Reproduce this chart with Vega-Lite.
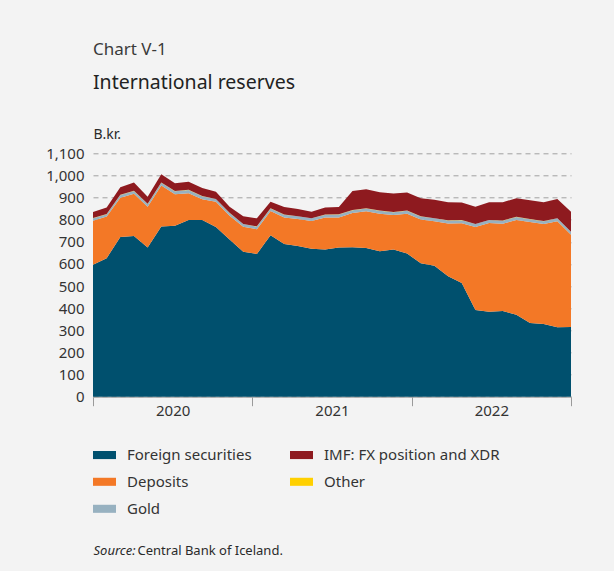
{
  "$schema": "https://vega.github.io/schema/vega-lite/v6.json",
  "width": 478,
  "height": 243.4,
  "autosize": {"type": "none"},
  "padding": {"left": 93, "top": 153.3, "right": 43, "bottom": 174.3},
  "background": "#f3f3f3",
  "config": {
    "font": "Noto Sans",
    "view": {"stroke": null},
    "axis": {"labelFont": "Noto Sans", "titleFont": "Noto Sans"},
    "legend": {"labelFont": "Noto Sans"}
  },
  "title": {
    "text": "Chart V-1",
    "subtitle": "International reserves",
    "anchor": "start",
    "frame": "group",
    "font": "Noto Sans",
    "fontSize": 17,
    "fontWeight": "normal",
    "color": "#3a3a3a",
    "subtitleFont": "Noto Sans",
    "subtitleFontSize": 19.5,
    "subtitleColor": "#222222",
    "subtitlePadding": 15,
    "offset": 34
  },
  "data": {
    "values": [
      {"month": "2020-01", "i": 0, "Foreign securities": 596, "Deposits": 199, "Gold": 12, "Other": 1, "IMF: FX position and XDR": 27},
      {"month": "2020-02", "i": 1, "Foreign securities": 626, "Deposits": 188, "Gold": 11, "Other": 1, "IMF: FX position and XDR": 29},
      {"month": "2020-03", "i": 2, "Foreign securities": 722, "Deposits": 177, "Gold": 13, "Other": 1, "IMF: FX position and XDR": 34},
      {"month": "2020-04", "i": 3, "Foreign securities": 726, "Deposits": 191, "Gold": 13, "Other": 1, "IMF: FX position and XDR": 37},
      {"month": "2020-05", "i": 4, "Foreign securities": 674, "Deposits": 185, "Gold": 12, "Other": 1, "IMF: FX position and XDR": 32},
      {"month": "2020-06", "i": 5, "Foreign securities": 769, "Deposits": 185, "Gold": 13, "Other": 1, "IMF: FX position and XDR": 37},
      {"month": "2020-07", "i": 6, "Foreign securities": 773, "Deposits": 142, "Gold": 14, "Other": 1, "IMF: FX position and XDR": 35},
      {"month": "2020-08", "i": 7, "Foreign securities": 798, "Deposits": 122, "Gold": 14, "Other": 1, "IMF: FX position and XDR": 36},
      {"month": "2020-09", "i": 8, "Foreign securities": 798, "Deposits": 94, "Gold": 14, "Other": 1, "IMF: FX position and XDR": 36},
      {"month": "2020-10", "i": 9, "Foreign securities": 767, "Deposits": 114, "Gold": 12, "Other": 1, "IMF: FX position and XDR": 32},
      {"month": "2020-11", "i": 10, "Foreign securities": 711, "Deposits": 107, "Gold": 12, "Other": 1, "IMF: FX position and XDR": 27},
      {"month": "2020-12", "i": 11, "Foreign securities": 655, "Deposits": 113, "Gold": 12, "Other": 1, "IMF: FX position and XDR": 35},
      {"month": "2021-01", "i": 12, "Foreign securities": 645, "Deposits": 112, "Gold": 12, "Other": 1, "IMF: FX position and XDR": 36},
      {"month": "2021-02", "i": 13, "Foreign securities": 730, "Deposits": 109, "Gold": 12, "Other": 1, "IMF: FX position and XDR": 29},
      {"month": "2021-03", "i": 14, "Foreign securities": 690, "Deposits": 120, "Gold": 12, "Other": 1, "IMF: FX position and XDR": 34},
      {"month": "2021-04", "i": 15, "Foreign securities": 681, "Deposits": 122, "Gold": 12, "Other": 1, "IMF: FX position and XDR": 32},
      {"month": "2021-05", "i": 16, "Foreign securities": 669, "Deposits": 125, "Gold": 12, "Other": 1, "IMF: FX position and XDR": 29},
      {"month": "2021-06", "i": 17, "Foreign securities": 665, "Deposits": 145, "Gold": 12, "Other": 1, "IMF: FX position and XDR": 32},
      {"month": "2021-07", "i": 18, "Foreign securities": 674, "Deposits": 136, "Gold": 13, "Other": 1, "IMF: FX position and XDR": 33},
      {"month": "2021-08", "i": 19, "Foreign securities": 675, "Deposits": 155, "Gold": 13, "Other": 1, "IMF: FX position and XDR": 86},
      {"month": "2021-09", "i": 20, "Foreign securities": 672, "Deposits": 166, "Gold": 13, "Other": 1, "IMF: FX position and XDR": 85},
      {"month": "2021-10", "i": 21, "Foreign securities": 657, "Deposits": 170, "Gold": 13, "Other": 1, "IMF: FX position and XDR": 83},
      {"month": "2021-11", "i": 22, "Foreign securities": 665, "Deposits": 156, "Gold": 13, "Other": 1, "IMF: FX position and XDR": 83},
      {"month": "2021-12", "i": 23, "Foreign securities": 647, "Deposits": 180, "Gold": 13, "Other": 1, "IMF: FX position and XDR": 82},
      {"month": "2022-01", "i": 24, "Foreign securities": 603, "Deposits": 198, "Gold": 13, "Other": 1, "IMF: FX position and XDR": 82},
      {"month": "2022-02", "i": 25, "Foreign securities": 592, "Deposits": 201, "Gold": 13, "Other": 1, "IMF: FX position and XDR": 83},
      {"month": "2022-03", "i": 26, "Foreign securities": 544, "Deposits": 239, "Gold": 13, "Other": 1, "IMF: FX position and XDR": 82},
      {"month": "2022-04", "i": 27, "Foreign securities": 514, "Deposits": 270, "Gold": 13, "Other": 1, "IMF: FX position and XDR": 80},
      {"month": "2022-05", "i": 28, "Foreign securities": 392, "Deposits": 375, "Gold": 13, "Other": 1, "IMF: FX position and XDR": 78},
      {"month": "2022-06", "i": 29, "Foreign securities": 384, "Deposits": 401, "Gold": 13, "Other": 1, "IMF: FX position and XDR": 80},
      {"month": "2022-07", "i": 30, "Foreign securities": 387, "Deposits": 395, "Gold": 13, "Other": 1, "IMF: FX position and XDR": 83},
      {"month": "2022-08", "i": 31, "Foreign securities": 370, "Deposits": 429, "Gold": 13, "Other": 1, "IMF: FX position and XDR": 84},
      {"month": "2022-09", "i": 32, "Foreign securities": 333, "Deposits": 456, "Gold": 13, "Other": 1, "IMF: FX position and XDR": 85},
      {"month": "2022-10", "i": 33, "Foreign securities": 329, "Deposits": 451, "Gold": 13, "Other": 1, "IMF: FX position and XDR": 85},
      {"month": "2022-11", "i": 34, "Foreign securities": 314, "Deposits": 479, "Gold": 13, "Other": 1, "IMF: FX position and XDR": 86},
      {"month": "2022-12", "i": 35, "Foreign securities": 315, "Deposits": 417, "Gold": 13, "Other": 1, "IMF: FX position and XDR": 90}
    ]
  },
  "transform": [
    {"fold": ["Foreign securities", "Deposits", "Gold", "Other", "IMF: FX position and XDR"], "as": ["series", "value"]},
    {"calculate": "indexof(['Foreign securities','Deposits','Gold','Other','IMF: FX position and XDR'], datum.series)", "as": "ord"}
  ],
  "layer": [
    {
      "mark": {"type": "area", "interpolate": "linear"},
      "encoding": {
        "x": {
          "field": "i",
          "type": "quantitative",
          "scale": {"domain": [0, 35], "nice": false, "zero": false},
          "axis": {
            "orient": "bottom",
            "values": [0, 11.6667, 23.3333, 35],
            "labels": false,
            "grid": false,
            "tickSize": 9,
            "tickColor": "#9a9a9a",
            "domainColor": "#9a9a9a",
            "title": "Source:",
            "titleFontStyle": "italic",
            "titleFontWeight": "normal",
            "titleFontSize": 13,
            "titleColor": "#2a2a2a",
            "titleX": 0,
            "titleY": 157.3,
            "titleAlign": "left",
            "titleBaseline": "alphabetic",
            "titleAnchor": "start"
          }
        },
        "y": {
          "field": "value",
          "type": "quantitative",
          "stack": "zero",
          "scale": {"domain": [0, 1100], "nice": false},
          "axis": {
            "title": "B.kr.",
            "titleAngle": 0,
            "titleAlign": "left",
            "titleBaseline": "alphabetic",
            "titleX": 0,
            "titleY": -15,
            "titleFontSize": 14,
            "titleFontWeight": "normal",
            "titleColor": "#2a2a2a",
            "domain": false,
            "ticks": false,
            "labelPadding": 9,
            "labelFontSize": 15,
            "labelColor": "#333333",
            "values": [0, 100, 200, 300, 400, 500, 600, 700, 800, 900, 1000, 1100],
            "format": ",.0f",
            "grid": true,
            "gridDash": [5, 4],
            "gridColor": "#a0a0a0",
            "gridWidth": 1
          }
        },
        "color": {
          "field": "series",
          "type": "nominal",
          "scale": {
            "domain": ["Foreign securities", "Deposits", "Gold", "IMF: FX position and XDR", "Other"],
            "range": ["#00506e", "#f37826", "#97b1c0", "#8e1a1f", "#ffd000"]
          },
          "legend": {
            "title": null,
            "orient": "none",
            "legendX": 0,
            "legendY": 290,
            "columns": 2,
            "padding": 0,
            "symbolType": "M-1,-0.35L1,-0.35L1,0.35L-1,0.35Z",
            "symbolSize": 529,
            "symbolStrokeWidth": 0,
            "symbolOpacity": 1,
            "labelFontSize": 15,
            "labelColor": "#333333",
            "labelOffset": 11,
            "labelLimit": 300,
            "rowPadding": 7,
            "columnPadding": 38
          }
        },
        "order": {"field": "ord", "type": "quantitative"}
      }
    },
    {
      "mark": {"type": "point", "opacity": 0},
      "encoding": {
        "x": {
          "field": "i",
          "type": "quantitative",
          "axis": {
            "orient": "bottom",
            "values": [5.8333, 17.5, 29.1667],
            "labelExpr": "datum.value < 10 ? '2020' : datum.value < 20 ? '2021' : '2022'",
            "ticks": false,
            "domain": false,
            "grid": false,
            "labelPadding": 7,
            "labelFontSize": 15,
            "labelColor": "#333333",
            "title": "Central Bank of Iceland.",
            "titleFontWeight": "normal",
            "titleFontSize": 13,
            "titleColor": "#2a2a2a",
            "titleX": 44,
            "titleY": 157.3,
            "titleAlign": "left",
            "titleBaseline": "alphabetic",
            "titleAnchor": "start"
          }
        }
      }
    }
  ],
  "resolve": {"axis": {"x": "independent"}}
}
